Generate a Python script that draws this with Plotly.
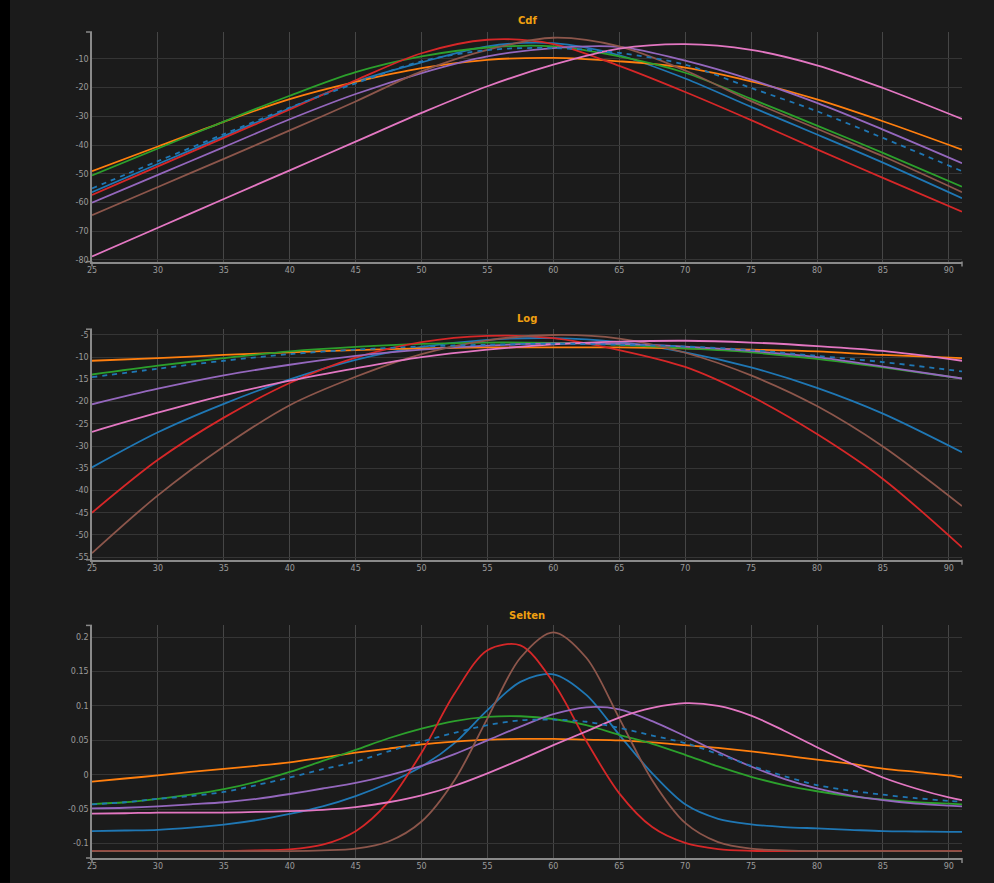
import plotly.graph_objects as go

# ---------------- data ----------------
X_CDF = [25, 30, 35, 40, 45, 50, 55, 60, 65, 70, 75, 80, 85, 91]
X_SEL = [25, 27.5, 30, 32.5, 35, 37.5, 40, 42.5, 45, 47.5, 50, 52.5, 55, 57.5,
         60, 62.5, 65, 67.5, 70, 72.5, 75, 77.5, 80, 82.5, 85, 87.5, 90, 91]

series_names = ["blue", "orange", "green", "red", "purple", "brown", "pink", "mean"]
series_colors = ["#1f77b4", "#ff7f0e", "#2ca02c", "#d62728", "#9467bd", "#8c564b", "#e377c2", "#1f77b4"]

cdf_blue   = [-56.4, -46.6, -36.9, -27.2, -17.9, -11.2, -5.6, -4.5, -8.7, -16.8, -26.7, -36.3, -46.1, -58.5]
cdf_orange = [-49.1, -40.5, -31.9, -24.0, -18.0, -13.2, -10.3, -9.6, -10.8, -13.0, -17.8, -24.1, -31.7, -41.6]
cdf_green  = [-50.6, -41.2, -31.8, -22.8, -14.6, -9.1, -6.0, -5.6, -9.1, -14.8, -23.9, -33.2, -42.7, -54.5]
cdf_red    = [-57.4, -47.4, -37.5, -27.6, -17.4, -8.0, -3.3, -4.8, -12.4, -21.5, -31.3, -41.5, -51.4, -63.2]
cdf_purple = [-60.1, -50.4, -40.7, -31.0, -22.2, -14.9, -9.1, -6.2, -5.8, -10.6, -17.2, -25.3, -34.6, -46.3]
cdf_brown  = [-64.4, -54.6, -44.8, -34.9, -24.8, -14.3, -6.8, -2.6, -5.6, -14.0, -24.7, -34.3, -43.9, -56.4]
cdf_pink   = [-78.8, -68.8, -58.8, -48.8, -38.8, -28.8, -19.5, -12.0, -6.4, -4.8, -6.8, -12.2, -20.1, -30.9]
cdf_mean   = [-55.1, -45.6, -36.2, -26.9, -18.5, -10.8, -6.9, -6.2, -7.9, -12.0, -20.1, -28.2, -37.5, -49.1]

log_blue   = [-34.8, -26.9, -20.5, -15.0, -10.6, -7.7, -6.1, -5.7, -6.6, -8.9, -12.3, -16.9, -22.7, -31.4]
log_orange = [-10.8, -10.2, -9.5, -8.9, -8.4, -8.0, -7.8, -7.8, -7.8, -8.0, -8.3, -8.7, -9.5, -10.2]
log_green  = [-13.9, -11.9, -10.2, -8.7, -7.7, -7.0, -6.7, -6.8, -7.2, -8.0, -8.9, -10.4, -12.3, -14.8]
log_red    = [-45.0, -33.1, -23.6, -15.8, -10.1, -6.6, -5.2, -5.7, -8.4, -12.2, -18.8, -27.3, -37.4, -52.8]
log_purple = [-20.6, -17.1, -14.1, -11.7, -9.7, -8.3, -7.4, -6.9, -7.0, -7.6, -8.6, -10.0, -12.1, -14.8]
log_brown  = [-54.1, -41.1, -30.1, -20.8, -14.4, -9.3, -6.2, -5.0, -5.8, -9.0, -14.1, -21.0, -30.1, -43.5]
log_pink   = [-26.8, -22.5, -18.6, -15.3, -12.5, -10.0, -8.3, -7.1, -6.5, -6.3, -6.7, -7.5, -8.6, -10.8]
log_mean   = [-14.5, -12.6, -10.8, -9.3, -8.3, -7.6, -7.2, -7.0, -7.2, -7.6, -8.4, -9.7, -11.1, -13.2]

sel_blue   = [-0.082, -0.081, -0.080, -0.077, -0.0725, -0.066, -0.057, -0.046, -0.031, -0.012, 0.012, 0.046, 0.094, 0.135,
              0.146, 0.116, 0.058, 0.002, -0.043, -0.064, -0.072, -0.076, -0.078, -0.080, -0.082, -0.0825, -0.083, -0.083]
sel_orange = [-0.010, -0.0055, -0.001, 0.004, 0.0085, 0.013, 0.018, 0.025, 0.032, 0.038, 0.044, 0.048, 0.051, 0.052,
              0.052, 0.051, 0.050, 0.047, 0.043, 0.039, 0.034, 0.028, 0.022, 0.016, 0.009, 0.004, -0.001, -0.004]
sel_green  = [-0.0427, -0.040, -0.035, -0.029, -0.021, -0.010, 0.004, 0.020, 0.036, 0.053, 0.067, 0.078, 0.084, 0.085,
              0.081, 0.072, 0.058, 0.045, 0.029, 0.012, -0.003, -0.015, -0.024, -0.031, -0.036, -0.040, -0.042, -0.043]
sel_red    = [-0.111, -0.111, -0.111, -0.111, -0.111, -0.110, -0.1086, -0.1017, -0.082, -0.039, 0.032, 0.118, 0.181, 0.188,
              0.134, 0.049, -0.027, -0.076, -0.099, -0.108, -0.1105, -0.111, -0.111, -0.111, -0.111, -0.111, -0.111, -0.111]
sel_purple = [-0.049, -0.048, -0.046, -0.043, -0.040, -0.035, -0.028, -0.020, -0.012, -0.001, 0.013, 0.030, 0.050, 0.070,
              0.088, 0.098, 0.095, 0.078, 0.056, 0.033, 0.012, -0.006, -0.020, -0.030, -0.037, -0.042, -0.045, -0.046]
sel_brown  = [-0.111, -0.111, -0.111, -0.111, -0.111, -0.111, -0.111, -0.110, -0.1075, -0.097, -0.068, -0.008, 0.082, 0.170,
              0.207, 0.170, 0.082, -0.008, -0.070, -0.098, -0.1075, -0.110, -0.111, -0.111, -0.111, -0.111, -0.111, -0.111]
sel_pink   = [-0.0566, -0.056, -0.055, -0.055, -0.055, -0.054, -0.053, -0.051, -0.047, -0.040, -0.030, -0.016, 0.002, 0.022,
              0.043, 0.063, 0.083, 0.097, 0.104, 0.100, 0.086, 0.064, 0.040, 0.017, -0.004, -0.020, -0.033, -0.037]
sel_mean   = [-0.043, -0.040, -0.035, -0.031, -0.025, -0.015, -0.004, 0.008, 0.019, 0.034, 0.048, 0.061, 0.072, 0.079,
              0.080, 0.077, 0.068, 0.057, 0.046, 0.030, 0.013, -0.002, -0.015, -0.023, -0.029, -0.034, -0.038, -0.039]

panel_titles = ["Cdf", "Log", "Selten"]
x_ticks = [25, 30, 35, 40, 45, 50, 55, 60, 65, 70, 75, 80, 85, 90]
cdf_ticks = [-80, -70, -60, -50, -40, -30, -20, -10]
log_ticks = [-55, -50, -45, -40, -35, -30, -25, -20, -15, -10, -5]
sel_ticks = [-0.1, -0.05, 0, 0.05, 0.1, 0.15, 0.2]
sel_tick_text = ["-0.1", "-0.05", "0", "0.05", "0.1", "0.15", "0.2"]

# ---------------- figure ----------------
W, H = 994, 883
ML, MR, MT, MB = 92, 32, 32, 20
PW, PH = W - ML - MR, H - MT - MB

def px_x(px):
    return (px - ML) / PW

def px_y(py):
    return (H - MB - py) / PH

panel_px = [(32, 263), (331, 563), (629, 863)]  # top, bottom in pixels
panel_ranges = [[-80.6, -0.6], [-55.6, -3.7], [-0.121, 0.217]]

panels = [
    (X_CDF, [cdf_blue, cdf_orange, cdf_green, cdf_red, cdf_purple, cdf_brown, cdf_pink, cdf_mean]),
    (X_CDF, [log_blue, log_orange, log_green, log_red, log_purple, log_brown, log_pink, log_mean]),
    (X_SEL, [sel_blue, sel_orange, sel_green, sel_red, sel_purple, sel_brown, sel_pink, sel_mean]),
]

fig = go.Figure()

BG = "#1b1b1b"
GRID_V = "#464646"
GRID_H = "#353535"
AXIS = "#8a8a8a"
TICKFONT = dict(family="DejaVu Sans", size=8, color="#9c9c9c")
TITLE_COLOR = "#f0a010"

layout_axes = {}
for i, (xs, ys_list) in enumerate(panels):
    n = "" if i == 0 else str(i + 1)
    for name, color, ys in zip(series_names, series_colors, ys_list):
        fig.add_trace(go.Scatter(
            x=xs, y=ys, mode="lines", name=name,
            line=dict(color=color, width=1.8, shape="spline", smoothing=0.9,
                      dash="5px,5px" if name == "mean" else "solid"),
            xaxis="x" + n, yaxis="y" + n, showlegend=False, hoverinfo="skip",
        ))
    top, bot = panel_px[i]
    layout_axes["xaxis" + n] = dict(
        domain=[0, 1], anchor="y" + n, range=[25, 91],
        tickvals=x_ticks, ticktext=[str(t) for t in x_ticks],
        showgrid=True, gridcolor=GRID_V, gridwidth=1,
        showline=True, linecolor=AXIS, linewidth=1.5,
        zeroline=False, ticks="", tickfont=TICKFONT,
    )
    if i == 0:
        tv, tt = cdf_ticks, [str(t) for t in cdf_ticks]
    elif i == 1:
        tv, tt = log_ticks, [str(t) for t in log_ticks]
    else:
        tv, tt = sel_ticks, sel_tick_text
    layout_axes["yaxis" + n] = dict(
        domain=[px_y(bot), px_y(top)], anchor="x" + n, range=panel_ranges[i],
        tickvals=tv, ticktext=tt,
        showgrid=True, gridcolor=GRID_H, gridwidth=1,
        showline=True, linecolor=AXIS, linewidth=1.5,
        zeroline=False, ticks="", tickfont=TICKFONT,
    )

shapes = [
    dict(type="rect", xref="paper", yref="paper",
         x0=px_x(0), x1=px_x(10), y0=px_y(H + 5), y1=px_y(-5),
         fillcolor="#000000", line=dict(width=0), layer="below"),
]
for top, bot in panel_px:
    # outer tick stubs (d3-style domain ends)
    for (xa, ya, xb, yb) in [(86, top, 92, top), (86, bot, 92, bot),
                             (92, bot, 92, bot + 5), (962, bot, 962, bot + 5)]:
        shapes.append(dict(type="line", xref="paper", yref="paper",
                           x0=px_x(xa), y0=px_y(ya), x1=px_x(xb), y1=px_y(yb),
                           line=dict(color=AXIS, width=1.5)))

annotations = []
for title, ty in zip(panel_titles, [20, 320, 619]):
    annotations.append(dict(
        text="<b>%s</b>" % title, xref="paper", yref="paper",
        x=px_x(527), y=px_y(ty), xanchor="center", yanchor="middle",
        showarrow=False, font=dict(family="DejaVu Sans", size=10, color=TITLE_COLOR),
    ))

fig.update_layout(
    width=W, height=H, autosize=False,
    margin=dict(l=ML, r=MR, t=MT, b=MB, pad=0),
    paper_bgcolor=BG, plot_bgcolor=BG,
    showlegend=False, shapes=shapes, annotations=annotations,
    **layout_axes,
)

fig.write_html("out.html", config={"displayModeBar": False})
